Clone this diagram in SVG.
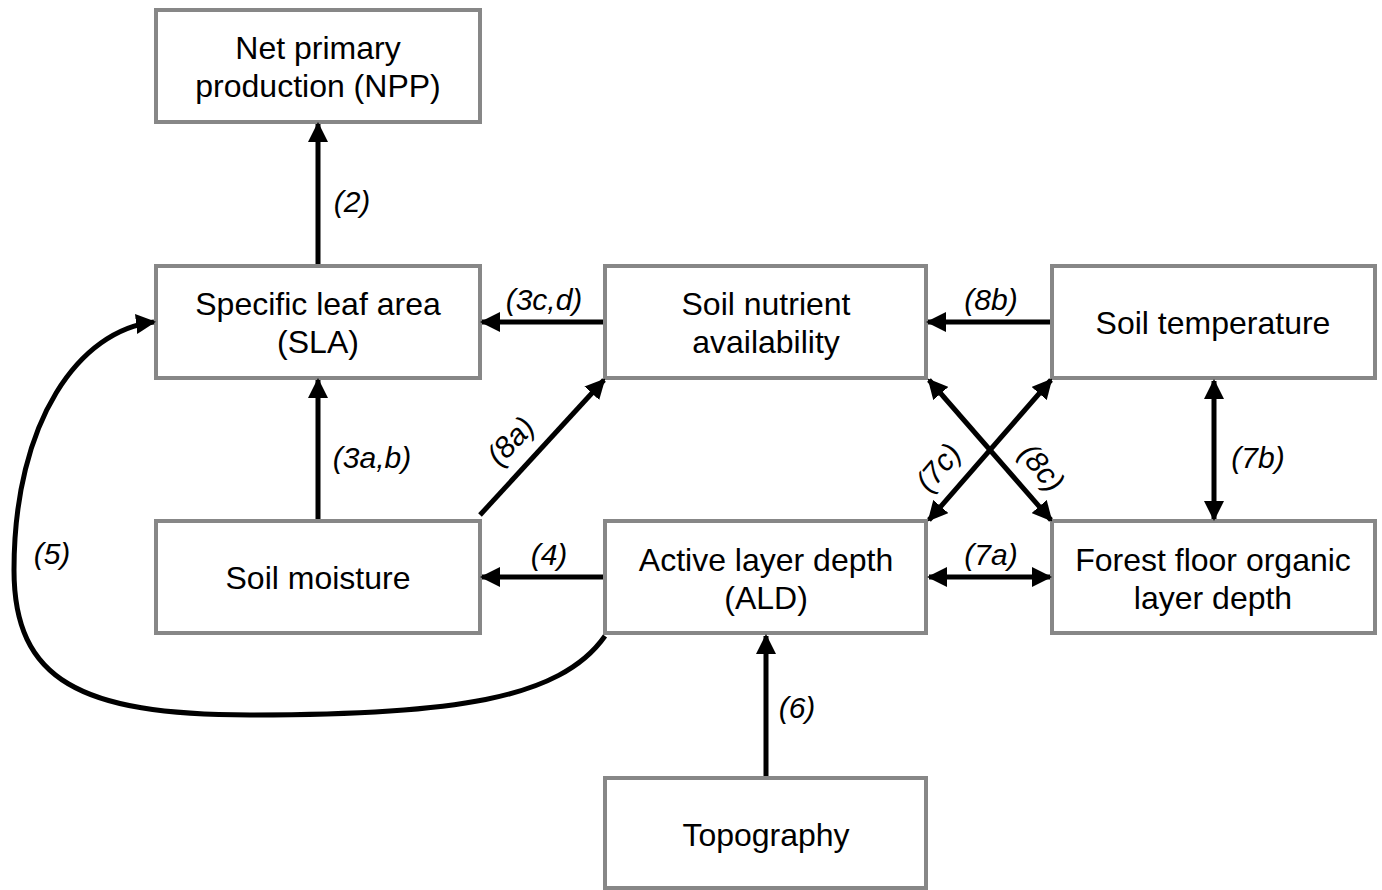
<svg xmlns="http://www.w3.org/2000/svg" width="1382" height="890" viewBox="0 0 1382 890">
<style>
.box{fill:#fff;stroke:#878787;stroke-width:4}
.t{font-family:"Liberation Sans",Arial,sans-serif;font-size:32px;fill:#000;text-anchor:middle}
.l{font-family:"Liberation Sans",Arial,sans-serif;font-size:30px;font-style:italic;fill:#000;text-anchor:middle}
.c{fill:none;stroke:#000;stroke-width:5}
</style>
<defs>
<marker id="ah" viewBox="0 0 10 10" refX="9" refY="5" markerWidth="4" markerHeight="4" orient="auto-start-reverse" markerUnits="strokeWidth">
<path d="M0,0 L10,5 L0,10 z" fill="#000"/>
</marker>
</defs>
<rect width="1382" height="890" fill="#fff"/>
<g id="npp"><rect class="box" x="156" y="10" width="324" height="112"/><text class="t" x="318" y="59">Net primary</text><text class="t" x="318" y="97">production (NPP)</text></g>
<g id="sla"><rect class="box" x="156" y="266" width="324" height="112"/><text class="t" x="318" y="315">Specific leaf area</text><text class="t" x="318" y="353">(SLA)</text></g>
<g id="nutrient"><rect class="box" x="605" y="266" width="321" height="112"/><text class="t" x="766" y="315">Soil nutrient</text><text class="t" x="766" y="353">availability</text></g>
<g id="temp"><rect class="box" x="1052" y="266" width="323" height="112"/><text class="t" x="1213" y="334">Soil temperature</text></g>
<g id="moisture"><rect class="box" x="156" y="521" width="324" height="112"/><text class="t" x="318" y="589">Soil moisture</text></g>
<g id="ald"><rect class="box" x="605" y="521" width="321" height="112"/><text class="t" x="766" y="571">Active layer depth</text><text class="t" x="766" y="609">(ALD)</text></g>
<g id="forest"><rect class="box" x="1052" y="521" width="323" height="112"/><text class="t" x="1213" y="571">Forest floor organic</text><text class="t" x="1213" y="609">layer depth</text></g>
<g id="topo"><rect class="box" x="605" y="778" width="321" height="110"/><text class="t" x="766" y="846">Topography</text></g>
<g id="connectors">
<line class="c" x1="318" y1="264" x2="318" y2="124" marker-end="url(#ah)"/>
<line class="c" x1="603" y1="322" x2="482" y2="322" marker-end="url(#ah)"/>
<line class="c" x1="1050" y1="322" x2="928" y2="322" marker-end="url(#ah)"/>
<line class="c" x1="318" y1="519" x2="318" y2="380" marker-end="url(#ah)"/>
<line class="c" x1="480" y1="515" x2="604" y2="380" marker-end="url(#ah)"/>
<line class="c" x1="603" y1="577" x2="482" y2="577" marker-end="url(#ah)"/>
<line class="c" x1="929" y1="577" x2="1050" y2="577" marker-start="url(#ah)" marker-end="url(#ah)"/>
<line class="c" x1="1214" y1="381" x2="1214" y2="519" marker-start="url(#ah)" marker-end="url(#ah)"/>
<line class="c" x1="929" y1="520" x2="1051" y2="380" marker-start="url(#ah)" marker-end="url(#ah)"/>
<line class="c" x1="929" y1="380" x2="1051" y2="520" marker-start="url(#ah)" marker-end="url(#ah)"/>
<line class="c" x1="766" y1="776" x2="766" y2="636" marker-end="url(#ah)"/>
<path class="c" d="M605,636 C560,700 450,715 250,715 C80,715 14,680 14,570 C14,420 80,330 154,322" marker-end="url(#ah)"/>
<text class="l" x="352" y="212">(2)</text>
<text class="l" x="544" y="310">(3c,d)</text>
<text class="l" x="991" y="310">(8b)</text>
<text class="l" x="372" y="468">(3a,b)</text>
<text class="l" transform="translate(518,448) rotate(-47)">(8a)</text>
<text class="l" x="549" y="565">(4)</text>
<text class="l" x="991" y="565">(7a)</text>
<text class="l" x="1258" y="468">(7b)</text>
<text class="l" transform="translate(946,474) rotate(-50)">(7c)</text>
<text class="l" transform="translate(1034,474) rotate(50)">(8c)</text>
<text class="l" x="797" y="718">(6)</text>
<text class="l" x="52" y="564">(5)</text>
</g>
</svg>
